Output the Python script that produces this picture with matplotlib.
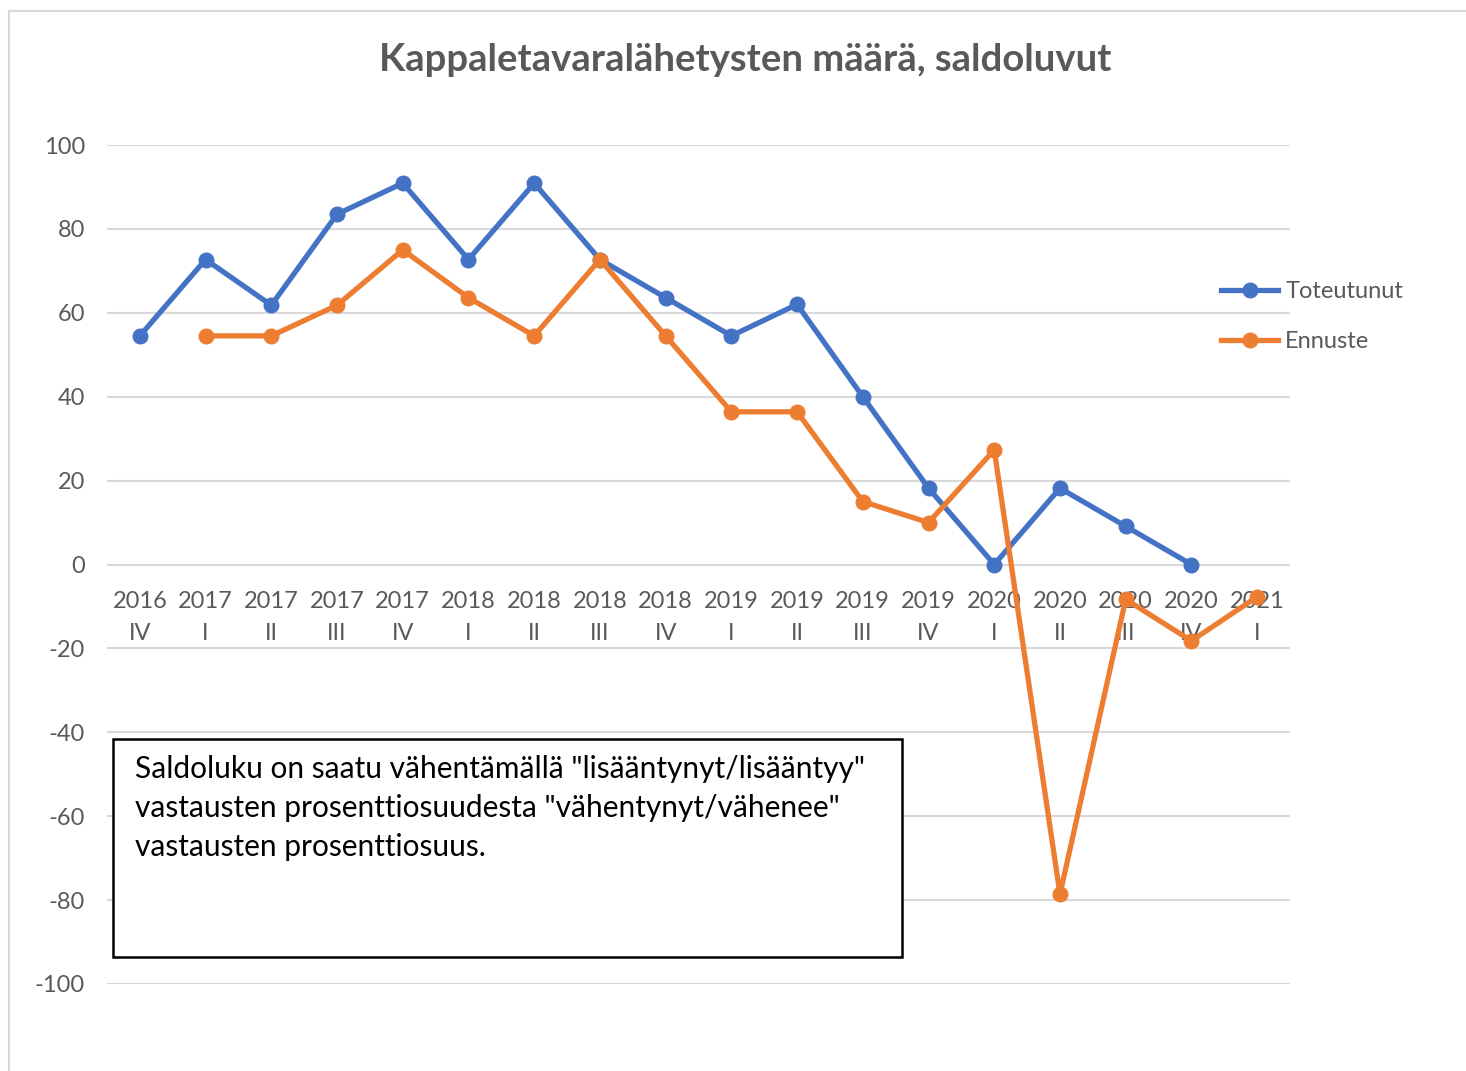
import matplotlib
matplotlib.use("Agg")
import matplotlib.pyplot as plt
from matplotlib.lines import Line2D
from matplotlib.patches import Rectangle
import numpy as np

years = ["2016", "2017", "2017", "2017", "2017", "2018", "2018", "2018", "2018",
         "2019", "2019", "2019", "2019", "2020", "2020", "2020", "2020", "2021"]
quarters = ["IV", "I", "II", "III", "IV", "I", "II", "III", "IV",
            "I", "II", "III", "IV", "I", "II", "III", "IV", "I"]
toteutunut = [54.5, 72.7, 61.8, 83.5, 90.9, 72.7, 90.9, 72.7, 63.6,
              54.5, 62.0, 40.0, 18.2, 0.0, 18.2, 9.1, 0.0, np.nan]
ennuste = [np.nan, 54.5, 54.5, 61.8, 75.0, 63.6, 54.5, 72.7, 54.5,
           36.4, 36.4, 15.0, 10.0, 27.3, -78.6, -8.3, -18.2, -7.7]
title = "Kappaletavaralähetysten määrä, saldoluvut"
note = ('Saldoluku on saatu vähentämällä "lisääntynyt/lisääntyy"\n'
        'vastausten prosenttiosuudesta "vähentynyt/vähenee"\n'
        'vastausten prosenttiosuus.')

plt.rcParams['font.family'] = ['Lato', 'DejaVu Sans']
plt.rcParams['axes.unicode_minus'] = False
W, H = 1466, 1071
fig = plt.figure(figsize=(W/100, H/100), dpi=100)
fig.patch.set_facecolor("white")

# outer chart-area border
fig.add_artist(Line2D([9/W, 1.0], [1-11/H, 1-11/H], color="#D9D9D9", lw=1.5, transform=fig.transFigure))
fig.add_artist(Line2D([9/W, 9/W], [1-11/H, 0.0], color="#D9D9D9", lw=1.5, transform=fig.transFigure))

ax = fig.add_axes([107/W, 1-984/H, (1290-107)/W, (984-145)/H])
x = np.arange(len(years))
ax.set_xlim(-0.5, len(years)-0.5)
ax.set_ylim(-100, 100)
ax.set_yticks(np.arange(-100, 101, 20))
ax.yaxis.grid(True, color="#D9D9D9", lw=1.5)
ax.set_axisbelow(True)
for s in ax.spines.values():
    s.set_visible(False)
ax.set_xticks([])
ax.tick_params(axis="y", length=0, pad=16, labelsize=17, labelcolor="#595959")

ax.plot(x, toteutunut, color="#4472C4", lw=3.8, marker="o", ms=10.5, label="Toteutunut", zorder=3)
ax.plot(x, ennuste, color="#ED7D31", lw=3.8, marker="o", ms=10.5, label="Ennuste", zorder=4)

for i in x:
    ax.annotate(years[i], (i, 0), xytext=(0, -26.5), textcoords="offset points",
                ha="center", va="center", fontsize=17, color="#595959", zorder=2)
    ax.annotate(quarters[i], (i, 0), xytext=(0, -49.5), textcoords="offset points",
                ha="center", va="center", fontsize=17, color="#595959", zorder=2)

fig.text(745/W, 1-60/H, title, ha="center", va="center", fontsize=27.5,
         fontweight="bold", color="#595959")

leg = fig.legend(loc="upper left", bbox_to_anchor=(1212/W, 1-272/H), frameon=False,
                 fontsize=17, labelcolor="#595959", handlelength=2.4,
                 handletextpad=0.3, labelspacing=1.2, borderaxespad=0)

fig.add_artist(Rectangle((113/W, 1-957/H), (902-113)/W, (957-739)/H,
                         transform=fig.transFigure, facecolor="white",
                         edgecolor="black", lw=1.8, zorder=10))
fig.text(135/W, 1-755/H, note, ha="left", va="top", fontsize=21.5,
         color="black", linespacing=1.47, zorder=11)

fig.savefig("out.png", dpi=100)
